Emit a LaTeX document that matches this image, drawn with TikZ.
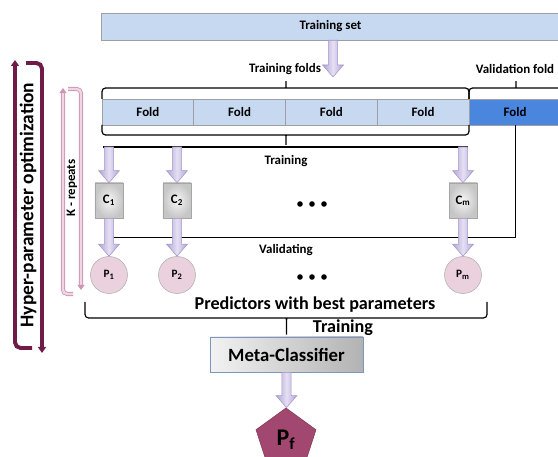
\documentclass[tikz,border=0pt]{standalone}
\usepackage{fontspec}
\setmainfont{Carlito}
\usetikzlibrary{arrows.meta, calc, shapes.geometric}

\definecolor{foldblue}{RGB}{198,217,241}
\definecolor{valblue}{RGB}{74,134,222}
\definecolor{lavdark}{RGB}{178,163,214}
\definecolor{lavlight}{RGB}{230,224,243}
\definecolor{lavedge}{RGB}{165,152,205}
\definecolor{predpink}{RGB}{234,209,221}
\definecolor{hyperred}{RGB}{112,28,72}
\definecolor{kpink}{RGB}{205,150,180}
\definecolor{kpinklight}{RGB}{240,214,228}
\definecolor{pfpurple}{RGB}{162,72,112}
\definecolor{metaedge}{RGB}{125,150,190}

\newcommand{\lblfont}{\fontsize{9.2}{11}\selectfont\bfseries}
\newcommand{\bigfont}{\fontsize{12.9}{15}\selectfont\bfseries}

\tikzset{
  fold/.style={draw=gray!75, fill=foldblue, minimum width=22.94mm, minimum height=6.5mm, inner sep=0pt, font=\lblfont},
  clf/.style={draw=gray!70, shading=radial, inner color=gray!8, outer color=gray!45, minimum width=7mm, minimum height=8.75mm, inner sep=0pt, font=\lblfont},
  pred/.style={circle, draw=gray!60, fill=predpink, minimum size=9.25mm, inner sep=0pt, font=\fontsize{8}{9}\selectfont\bfseries},
  bracket/.style={draw=black, line width=0.85pt, rounded corners=2.5pt},
  fatarrow/.style={draw=lavedge, line width=0.4pt, left color=lavdark, right color=lavdark, middle color=lavlight},
  loopline/.style={line width=2.8pt, draw=hyperred, rounded corners=4pt},
  kline/.style={line width=0.6pt, draw=kpink, double=kpinklight, double distance=1.7pt, rounded corners=3pt},
}

% block arrow from #1 down to #2
\newcommand{\fatarrow}[2]{%
  \path[fatarrow] let \p1=(#1), \p2=(#2) in
    (\x1-1.15mm,\y1) -- (\x1-1.15mm,\y2+3mm) -- (\x1-2.6mm,\y2+3mm) -- (\x1,\y2)
    -- (\x1+2.6mm,\y2+3mm) -- (\x1+1.15mm,\y2+3mm) -- (\x1+1.15mm,\y1) -- cycle;}

\begin{document}
\begin{tikzpicture}[x=0.025cm, y=-0.025cm]
  \useasboundingbox (0,0) rectangle (558,457);
  \clip (0,0) rectangle (558,457);

  %Data and folds
  \node[draw=gray!75, fill=foldblue, minimum width=114.75mm, minimum height=6.75mm, inner sep=0pt, font=\lblfont] (tset) at (330.5,26.5) {Training set};
  \node[fold] (f1) at (147.9,112) {Fold};
  \node[fold] (f2) at (239.6,112) {Fold};
  \node[fold] (f3) at (331.4,112) {Fold};
  \node[fold] (f4) at (423.1,112) {Fold};
  \node[fold, fill=valblue, minimum width=23mm] (fv) at (515,112) {Fold};

  \node[font=\lblfont] (lfolds) at (285,69) {Training folds};
  \node[font=\lblfont] (lval) at (515,69) {Validation fold};

  \coordinate (tsout) at (333,77);
  \fatarrow{tsout |- tset.south}{tsout}

  %Braces
  \draw[bracket] (102,99) -- (102,88) -- (282,88) .. controls (286,88) .. (286,79)
    .. controls (286,88) .. (290,88) -- (469,88) -- (469,99);
  \draw[bracket] (469,99) -- (469,88) -- (512,88) .. controls (516,88) .. (516,79)
    .. controls (516,88) .. (520,88) -- (562,88);
  \draw[bracket] (102,125) -- (102,135) -- (282,135) .. controls (286,135) .. (286,147)
    .. controls (286,135) .. (290,135) -- (469,135) -- (469,125);
  \coordinate (split) at (286,147);
  \draw[bracket] (103,147) -- (468,147);

  %Base classifiers and predictors
  \node[clf] (c1) at (109,200.5) {C\textsubscript{1}};
  \node[clf] (c2) at (177,200.5) {C\textsubscript{2}};
  \node[clf] (cm) at (463,200.5) {C\textsubscript{m}};
  \node[pred] (p1) at (109,275) {P\textsubscript{1}};
  \node[pred] (p2) at (177,275) {P\textsubscript{2}};
  \node[pred] (pm) at (463,275) {P\textsubscript{m}};

  \coordinate (vend) at (109,237);
  \draw[line width=0.7pt] (fv.south) |- (vend);

  \fatarrow{c1 |- split}{c1.north}
  \fatarrow{c2 |- split}{c2.north}
  \fatarrow{cm |- split}{cm.north}
  \fatarrow{c1.south}{p1.north}
  \fatarrow{c2.south}{p2.north}
  \fatarrow{cm.south}{pm.north}

  \node[font=\lblfont] (ltrain) at (286,161) {Training};
  \node[font=\lblfont] (lvalid) at (286,250) {Validating};
  \foreach \d in {300,312,324} {
    \fill (\d,204) circle (0.7mm);
    \fill (\d,277) circle (0.7mm);
  }

  %Meta level
  \node[font=\bigfont] (lpred) at (315,305) {Predictors with best parameters};
  \node[draw=metaedge, left color=gray!10, right color=gray!60, minimum width=38.25mm, minimum height=8.75mm, inner sep=0pt, font=\fontsize{13.3}{15}\selectfont\bfseries] (meta) at (286.5,354.5) {Meta-Classifier};
  \draw[bracket] (85,302) -- (85,318) -- (282.5,318) .. controls (286.5,318) .. (meta.north)
    .. controls (286.5,318) .. (290.5,318) -- (487,318) -- (487,302);
  \node[font=\bigfont] (ltrain2) at (343,328) {Training};
  \node[regular polygon, regular polygon sides=5, draw=pfpurple!80!black, fill=pfpurple, minimum size=15.75mm, inner sep=0pt, font=\fontsize{17}{19}\selectfont\bfseries] (pf) at (286,439.5) {P\textsubscript{f}};
  \fatarrow{meta.south}{pf.north}

  %Loops
  \draw[loopline, -{Triangle[width=2mm,length=1.5mm]}] (32,348) -- (15,348) -- (15,60);
  \draw[loopline, -{Triangle[width=2mm,length=1.5mm]}] (26,63) -- (42,63) -- (42,353);
  \node[rotate=90, font=\fontsize{13.8}{15}\selectfont\bfseries] (lhyper) at (28,205) {Hyper-parameter optimization};
  \draw[kline, -{Triangle[width=1.8mm,length=1.3mm]}] (73,294) -- (63,294) -- (63,88);
  \draw[kline, -{Triangle[width=1.8mm,length=1.3mm]}] (68,89) -- (81,89) -- (81,290);
  \node[rotate=90, font=\lblfont] (lk) at (72,188) {K - repeats};
\end{tikzpicture}
\end{document}
